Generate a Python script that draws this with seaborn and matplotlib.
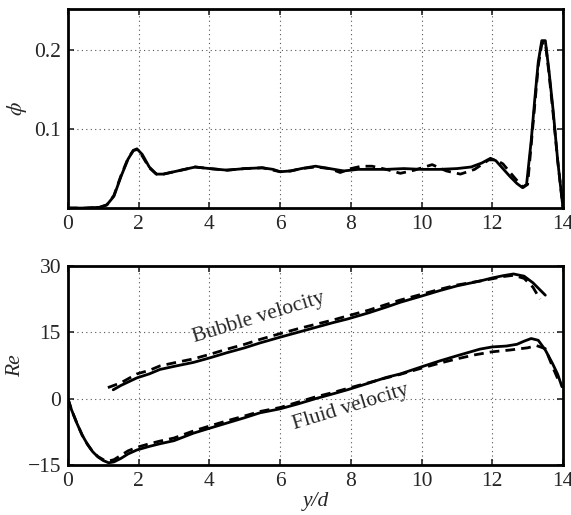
import matplotlib
matplotlib.use("Agg")
import matplotlib.pyplot as plt
import numpy as np
import pandas as pd
import seaborn as sns

# volume fraction profile, two runs (solid / dashed)
phi_x_solid = [0, 0.5, 0.9, 1.1, 1.3, 1.5, 1.7, 1.85, 1.95, 2.1, 2.3, 2.5, 2.7, 3.0, 3.3, 3.6,
               4.0, 4.5, 5.0, 5.5, 5.8, 6.0, 6.3, 6.6, 7.0, 7.4, 7.8, 8.2, 8.6, 9.0, 9.5, 10.0,
               10.5, 11.0, 11.4, 11.7, 11.95, 12.1, 12.3, 12.5, 12.7, 12.85, 12.97, 13.1, 13.2,
               13.3, 13.4, 13.5, 13.6, 13.72, 13.85, 14.0]
phi_solid = [0, 0, 0.001, 0.004, 0.015, 0.040, 0.062, 0.073, 0.075, 0.068, 0.052, 0.043, 0.043,
             0.046, 0.049, 0.052, 0.050, 0.048, 0.050, 0.051, 0.049, 0.046, 0.047, 0.050, 0.053,
             0.050, 0.047, 0.049, 0.049, 0.049, 0.050, 0.049, 0.049, 0.050, 0.052, 0.057, 0.063,
             0.060, 0.050, 0.040, 0.031, 0.026, 0.030, 0.085, 0.137, 0.185, 0.212, 0.212, 0.175,
             0.124, 0.060, 0.0]
phi_x_dash = [0, 0.5, 0.9, 1.1, 1.3, 1.5, 1.7, 1.85, 1.95, 2.1, 2.3, 2.5, 2.7, 3.0, 3.3, 3.6,
              4.0, 4.5, 5.0, 5.5, 5.8, 6.0, 6.3, 6.6, 7.0, 7.4, 7.7, 8.0, 8.3, 8.6, 9.0, 9.4,
              9.8, 10.3, 10.7, 11.1, 11.5, 11.9, 12.1, 12.3, 12.6, 12.87, 13.0, 13.1, 13.2, 13.3,
              13.4, 13.5, 13.6, 13.72, 13.85, 14.0]
phi_dash = [0, 0, 0.001, 0.004, 0.016, 0.041, 0.063, 0.073, 0.074, 0.066, 0.051, 0.043, 0.043,
            0.046, 0.049, 0.052, 0.050, 0.048, 0.050, 0.051, 0.048, 0.046, 0.047, 0.050, 0.052,
            0.050, 0.045, 0.050, 0.053, 0.053, 0.049, 0.044, 0.048, 0.055, 0.047, 0.043, 0.049,
            0.061, 0.061, 0.056, 0.040, 0.026, 0.030, 0.080, 0.130, 0.180, 0.208, 0.210, 0.172,
            0.120, 0.060, 0.0]

# Reynolds number profiles
fluid_x_solid = [0, 0.1, 0.25, 0.4, 0.55, 0.7, 0.85, 1.0, 1.15, 1.3, 1.5, 1.7, 1.95, 2.3, 2.6,
                 3.0, 3.55, 4.0, 4.5, 5.0, 5.43, 6.0, 6.5, 7.0, 7.5, 7.9, 8.5, 9.0, 9.4, 10.0,
                 10.5, 11.0, 11.65, 12.0, 12.4, 12.7, 12.9, 13.1, 13.3, 13.5, 13.7, 13.85, 13.97]
fluid_solid = [0, -2.5, -5.5, -8.2, -10.3, -12.0, -13.2, -14.0, -14.5, -14.3, -13.5, -12.5,
               -11.6, -10.8, -10.2, -9.5, -7.8, -6.7, -5.5, -4.3, -3.2, -2.3, -1.2, 0.0, 1.1,
               2.0, 3.5, 4.8, 5.6, 7.2, 8.5, 9.7, 11.2, 11.7, 11.9, 12.3, 13.0, 13.6, 13.2, 11.0,
               8.0, 5.5, 2.7]
fluid_x_dash = [0, 0.1, 0.25, 0.4, 0.55, 0.7, 0.85, 1.0, 1.15, 1.3, 1.5, 1.7, 1.95, 2.3, 2.6,
                3.0, 3.55, 4.0, 4.5, 5.0, 5.43, 6.0, 6.5, 7.0, 7.5, 7.9, 8.5, 9.0, 9.4, 10.0,
                10.5, 11.0, 11.5, 12.0, 12.5, 13.0, 13.25, 13.5, 13.7, 13.9]
fluid_dash = [0, -2.5, -5.5, -8.2, -10.3, -12.0, -13.1, -13.8, -14.1, -13.8, -12.8, -11.8,
              -11.0, -10.2, -9.6, -8.9, -7.3, -6.2, -5.0, -3.9, -2.9, -2.0, -0.8, 0.4, 1.4,
              2.3, 3.6, 4.7, 5.5, 6.9, 8.0, 9.0, 9.9, 10.6, 11.0, 11.5, 12.0, 11.3, 7.3, 3.6]
bubble_x_solid = [1.28, 1.5, 1.95, 2.3, 2.6, 3.0, 3.55, 4.0, 4.5, 5.0, 5.43, 6.0, 6.5, 7.0, 7.5,
                  7.9, 8.5, 9.0, 9.4, 10.0, 10.5, 11.0, 11.65, 12.0, 12.3, 12.6, 12.9, 13.15,
                  13.35, 13.5]
bubble_solid = [2.0, 3.0, 4.7, 5.6, 6.6, 7.3, 8.2, 9.2, 10.4, 11.5, 12.6, 13.9, 15.0, 16.1, 17.2,
                18.0, 19.4, 20.7, 21.8, 23.2, 24.4, 25.5, 26.6, 27.3, 27.8, 28.2, 27.7, 26.2,
                24.6, 23.4]
bubble_x_dash = [1.13, 1.3, 1.5, 1.95, 2.3, 2.6, 3.0, 3.55, 4.0, 4.5, 5.0, 5.43, 6.0, 6.5, 7.0,
                 7.5, 7.9, 8.5, 9.0, 9.4, 10.0, 10.5, 11.0, 11.65, 12.0, 12.3, 12.6, 12.9, 13.15,
                 13.35]
bubble_dash = [2.5, 3.0, 3.6, 5.6, 6.4, 7.4, 8.1, 9.0, 10.0, 11.2, 12.3, 13.4, 14.7, 15.8, 16.8,
               17.8, 18.7, 20.0, 21.3, 22.3, 23.6, 24.7, 25.7, 26.6, 27.1, 27.6, 27.9, 27.2, 25.2,
               22.5]

x_ticks = [0, 2, 4, 6, 8, 10, 12, 14]
phi_ticks = [0.1, 0.2]
re_ticks = [-15, 0, 15, 30]

sns.set_style("ticks")
plt.rcParams["font.family"] = ["Liberation Serif", "DejaVu Serif"]
plt.rcParams["mathtext.fontset"] = "stix"
plt.rcParams["axes.unicode_minus"] = True

fig = plt.figure(figsize=(5.71, 5.15), dpi=100)
ax1 = fig.add_axes([0.119, 0.596, 0.867, 0.3864])
ax2 = fig.add_axes([0.119, 0.0971, 0.867, 0.3864])

solid = dict(color="black", lw=2.0, estimator=None, sort=False)
dashed = dict(color="black", lw=2.0, estimator=None, sort=False, linestyle=(0, (3.5, 2.2)))

sns.lineplot(x=phi_x_dash, y=phi_dash, ax=ax1, **dashed)
sns.lineplot(x=phi_x_solid, y=phi_solid, ax=ax1, **solid)

sns.lineplot(x=fluid_x_dash, y=fluid_dash, ax=ax2, **dashed)
sns.lineplot(x=fluid_x_solid, y=fluid_solid, ax=ax2, **solid)
sns.lineplot(x=bubble_x_dash, y=bubble_dash, ax=ax2, **dashed)
sns.lineplot(x=bubble_x_solid, y=bubble_solid, ax=ax2, **solid)

fs = 15.5
for ax in (ax1, ax2):
    ax.set_xlim(0, 14)
    ax.set_xticks(x_ticks)
    ax.grid(True, linestyle=(0, (1, 3)), color="#555555", lw=0.8)
    ax.tick_params(direction="in", top=True, right=True, length=4, width=1.2,
                   labelsize=fs, pad=5)
    for s in ax.spines.values():
        s.set_linewidth(2.0)
        s.set_color("black")

ax1.set_ylim(0, 0.252)
ax1.set_yticks(phi_ticks)
ax1.set_yticklabels(["0.1", "0.2"])
ax1.set_ylabel(r"$\phi$", fontsize=fs, labelpad=4)

ax2.set_ylim(-15, 30)
ax2.set_yticks(re_ticks)
ax2.set_yticklabels(["\u221215", "0", "15", "30"])
ax2.set_ylabel("Re", fontsize=fs, fontstyle="italic", labelpad=2)
ax2.set_xlabel("y/d", fontsize=fs, fontstyle="italic", labelpad=1)

ax2.text(5.4, 18.3, "Bubble velocity", fontsize=fs, rotation=17,
         ha="center", va="center", rotation_mode="anchor")
ax2.text(8.0, -2.0, "Fluid velocity", fontsize=fs, rotation=17,
         ha="center", va="center", rotation_mode="anchor")

fig.savefig("out.png", dpi=100)
